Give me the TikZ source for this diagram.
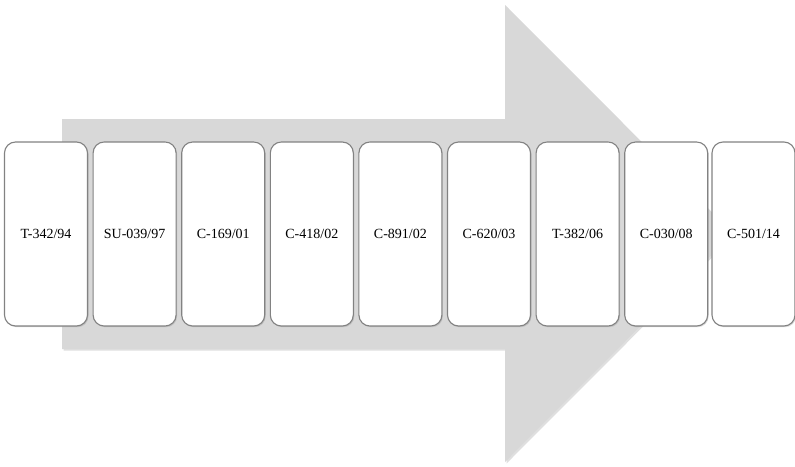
\documentclass[tikz,border=0pt]{standalone}
\usepackage{fontspec}
\setmainfont{Liberation Serif}
\usetikzlibrary{shadows}

\begin{document}
\begin{tikzpicture}[x=1pt,y=-1pt]
% Define colours
\definecolor{arrowgray}{RGB}{216,216,216}
\definecolor{casegray}{RGB}{130,130,130}
\tikzset{
  casebox/.style={draw=casegray,line width=1.1pt,fill=white,rounded corners=11pt,
    minimum width=83pt,minimum height=184pt,inner sep=0pt,font=\fontsize{14}{16}\selectfont,
    drop shadow={opacity=0.3,shadow xshift=1pt,shadow yshift=-1.2pt}}
}
\useasboundingbox (0,0) rectangle (795,466);

% Draw big arrow
\fill[arrowgray,drop shadow={opacity=0.25,shadow xshift=1.5pt,shadow yshift=-1.5pt}]
  (62,119) -- (505,119) -- (505,5) -- (733,233.5) -- (505,462) -- (505,349) -- (62,349) -- cycle;

% Draw cases
\node[casebox] (t94) at (46,234) {T-342/94};
\node[casebox] (su97) at (134.6,234) {SU-039/97};
\node[casebox] (c01) at (223.2,234) {C-169/01};
\node[casebox] (c02a) at (311.8,234) {C-418/02};
\node[casebox] (c02b) at (400.4,234) {C-891/02};
\node[casebox] (c03) at (489,234) {C-620/03};
\node[casebox] (t06) at (577.6,234) {T-382/06};
\node[casebox] (c08) at (666.2,234) {C-030/08};
\node[casebox] (c14) at (753.5,234) {C-501/14};
\end{tikzpicture}
\end{document}
